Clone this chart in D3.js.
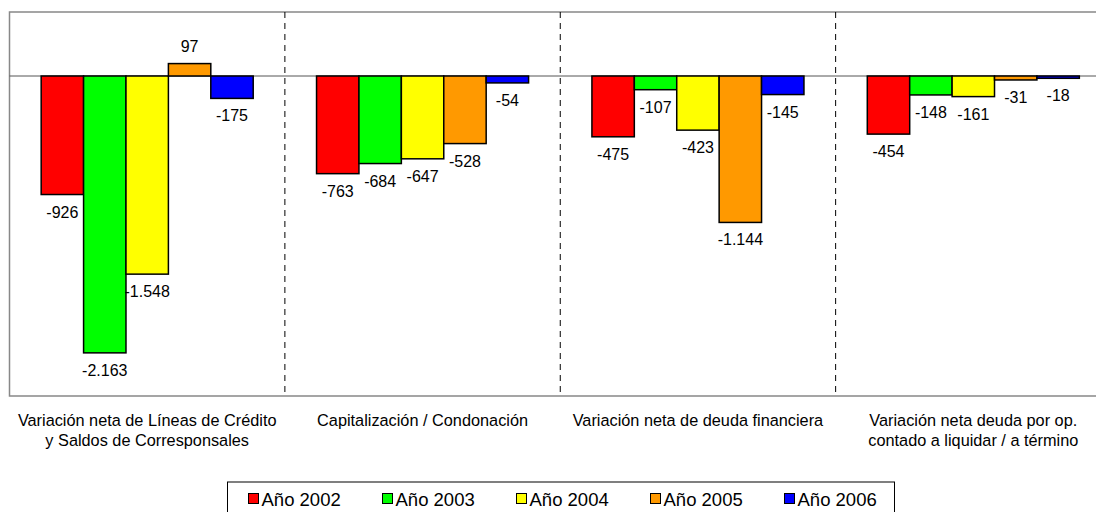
<!DOCTYPE html>
<html>
<head>
<meta charset="utf-8">
<script src="https://cdn.jsdelivr.net/npm/d3@7"></script>
<style>
  body { margin: 0; background: #fff; }
  svg { display: block; font-family: "Liberation Sans", Arial, sans-serif; }
</style>
</head>
<body>
<div id="chart"></div>
<script>
// categories (two lines each) and the yearly series
var categories = [
  ["Variación neta de Líneas de Crédito", "y Saldos de Corresponsales"],
  ["Capitalización / Condonación"],
  ["Variación neta de deuda financiera"],
  ["Variación neta deuda por op.", "contado a liquidar / a término"]
];
var years = ["Año 2002", "Año 2003", "Año 2004", "Año 2005", "Año 2006"];
var y2002 = [-926, -763, -475, -454];
var y2003 = [-2163, -684, -107, -148];
var y2004 = [-1548, -647, -423, -161];
var y2005 = [97, -528, -1144, -31];
var y2006 = [-175, -54, -145, -18];
var series = [y2002, y2003, y2004, y2005, y2006];
var colors = ["#ff0000", "#00ff00", "#ffff00", "#ff9900", "#0000ff"];

var width = 1096, height = 512;
var svg = d3.select("#chart").append("svg")
    .attr("width", width)
    .attr("height", height);

var plot = {left: 9.5, right: 1111, top: 12, bottom: 396};

var x0 = d3.scaleBand()
    .domain(d3.range(categories.length))
    .range([plot.left, plot.right]);

// the five bars fill ~77% of each category
var x1 = d3.scaleBand()
    .domain(d3.range(years.length))
    .range([x0.bandwidth() * 0.115, x0.bandwidth() * 0.885]);

var y = d3.scaleLinear()
    .domain([-2500, 500])
    .range([plot.bottom, plot.top]);

var fmt = d3.formatLocale({decimal: ",", thousands: ".", grouping: [3], currency: ["", ""], minus: "-"}).format(",d");

// plot frame
svg.append("path")
    .attr("d", "M" + plot.right + "," + plot.top + "H" + plot.left + "V" + plot.bottom + "H" + plot.right)
    .attr("fill", "none")
    .attr("stroke", "#888")
    .attr("stroke-width", 1.5);

// category separators
svg.append("g").selectAll("line")
    .data(d3.range(1, categories.length))
    .enter().append("line")
    .attr("x1", function(d) { return x0(d); })
    .attr("x2", function(d) { return x0(d); })
    .attr("y1", plot.top)
    .attr("y2", plot.bottom)
    .attr("stroke", "#000")
    .attr("stroke-dasharray", "6,5");

// zero line
svg.append("line")
    .attr("x1", plot.left).attr("x2", plot.right)
    .attr("y1", y(0)).attr("y2", y(0))
    .attr("stroke", "#555");

var groups = svg.append("g").selectAll("g")
    .data(categories)
    .enter().append("g")
    .attr("transform", function(d, i) { return "translate(" + x0(i) + ",0)"; });

groups.selectAll("rect")
    .data(function(d, i) { return series.map(function(s, k) { return {k: k, v: s[i]}; }); })
    .enter().append("rect")
    .attr("x", function(d) { return x1(d.k); })
    .attr("width", x1.bandwidth())
    .attr("y", function(d) { return y(Math.max(0, d.v)); })
    .attr("height", function(d) { return Math.abs(y(d.v) - y(0)); })
    .attr("fill", function(d) { return colors[d.k]; })
    .attr("stroke", "#000")
    .attr("stroke-width", 1.5);

groups.selectAll("text.val")
    .data(function(d, i) { return series.map(function(s, k) { return {k: k, v: s[i]}; }); })
    .enter().append("text")
    .attr("class", "val")
    .attr("x", function(d) { return x1(d.k) + x1.bandwidth() / 2; })
    .attr("y", function(d) { return d.v >= 0 ? y(d.v) - 12 : y(d.v) + 23; })
    .attr("text-anchor", "middle")
    .attr("font-size", 16)
    .text(function(d) { return fmt(d.v); });

// category labels
groups.append("text")
    .attr("y", 426)
    .attr("text-anchor", "middle")
    .attr("font-size", 16.3)
    .selectAll("tspan")
    .data(function(d) { return d; })
    .enter().append("tspan")
    .attr("x", x0.bandwidth() / 2)
    .attr("dy", function(d, i) { return i ? 19.5 : 0; })
    .text(function(d) { return d; });

// legend
var legend = svg.append("g");
legend.append("rect")
    .attr("x", 227.5).attr("y", 482)
    .attr("width", 667).attr("height", 40)
    .attr("fill", "#fff")
    .attr("stroke", "#000");

var item = legend.selectAll("g.item")
    .data(years)
    .enter().append("g")
    .attr("class", "item")
    .attr("transform", function(d, i) { return "translate(" + (248.5 + i * 134) + ",493.5)"; });
item.append("rect")
    .attr("width", 10).attr("height", 10)
    .attr("fill", function(d, i) { return colors[i]; })
    .attr("stroke", "#000");
item.append("text")
    .attr("x", 13).attr("y", 12)
    .attr("font-size", 18.5)
    .text(function(d) { return d; });
</script>
</body>
</html>
